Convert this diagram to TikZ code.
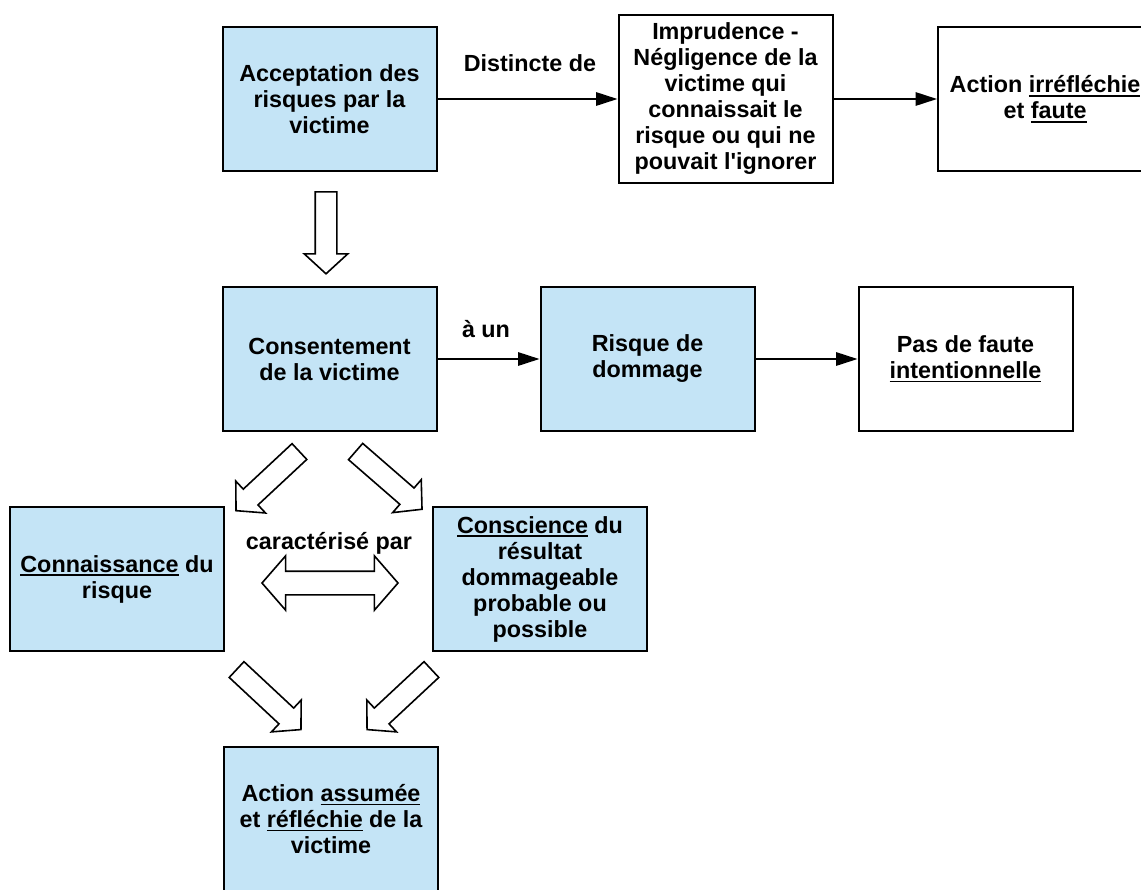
\documentclass[tikz,border=0pt]{standalone}
\usepackage{fontspec}
\setmainfont{Liberation Sans}
\usepackage{tikz}
\usetikzlibrary{shapes,arrows.meta}

\definecolor{bleuclair}{RGB}{196,228,246}
\newcommand{\souligne}[1]{\setbox0\hbox{#1}\rlap{\rule[-3pt]{\wd0}{1.3pt}}\box0\relax}

\tikzset{
  boite/.style={draw, line width=1.5pt, minimum width=160.5pt, minimum height=108pt, align=center, inner sep=0pt},
  bleue/.style={boite, fill=bleuclair},
  blanche/.style={boite, fill=white},
  fleche/.style={line width=1.3pt, -{Triangle[length=16pt,width=10pt]}},
  creuse/.style={single arrow, draw, line width=1.2pt, fill=white, inner xsep=0pt, inner ysep=7.5pt,
    single arrow head extend=8.25pt, single arrow tip angle=95},
  doublecreuse/.style={double arrow, draw, line width=1.2pt, fill=white, inner xsep=0pt, inner ysep=8.25pt,
    minimum height=102pt, double arrow head extend=11.5pt, double arrow tip angle=98}
}

\begin{document}
\begin{tikzpicture}[x=0.75pt, y=-0.75pt, font=\fontsize{17.5}{19.5}\selectfont\bfseries]
\useasboundingbox (0,0) rectangle (1141,889);

% ligne du haut
\node[bleue] (acceptation) at (329.5,99) {Acceptation des\\risques par la\\victime};
\node[blanche, minimum height=126pt] (imprudence) at (725.5,99) {Imprudence -\\Négligence de la\\victime qui\\connaissait le\\risque ou qui ne\\pouvait l\textquotesingle ignorer};
\node[blanche] (irreflechie) at (1045,99) {Action \souligne{irréfléchie}\\et \souligne{faute}};

% ligne du milieu
\node[bleue] (consentement) at (329.5,359) {Consentement\\de la victime};
\node[bleue] (risque) at (647.5,359) {Risque de\\dommage};
\node[blanche] (pasdefaute) at (965.5,359) {Pas de faute\\\souligne{intentionnelle}};

% bas
\node[bleue] (connaissance) at (117,579) {\souligne{Connaissance} du\\risque};
\node[bleue] (conscience) at (540,579) {\souligne{Conscience} du\\résultat\\dommageable\\probable ou\\possible};
\node[bleue] (assumee) at (331,819) {Action \souligne{assumée}\\et \souligne{réfléchie} de la\\victime};

% etiquettes
\node (distincte) at (530,63) {Distincte de};
\node (aun) at (486,329) {à un};
\node (caracterise) at (329,543) {caractérisé par};

\draw[fleche] (acceptation) -- (imprudence);
\draw[fleche] (imprudence) -- (irreflechie);
\draw[fleche] (consentement) -- (risque);
\draw[fleche] (risque) -- (pasdefaute);

% fleches creuses
\node[creuse, minimum height=61.5pt, rotate=-90, anchor=tail] (versconsentement) at (326,191) {};
\node[creuse, minimum height=65pt, rotate=223, anchor=tail] (versconnaissance) at (300,451) {};
\node[creuse, minimum height=66pt, rotate=-41, anchor=tail] (versconscience) at (355,451) {};
\node[creuse, minimum height=66pt, rotate=-43, anchor=tail] (depuisconnaissance) at (236,669) {};
\node[creuse, minimum height=66pt, rotate=223, anchor=tail] (depuisconscience) at (432,669) {};
\node[doublecreuse] (lien) at (330,583) {};
\end{tikzpicture}
\end{document}
